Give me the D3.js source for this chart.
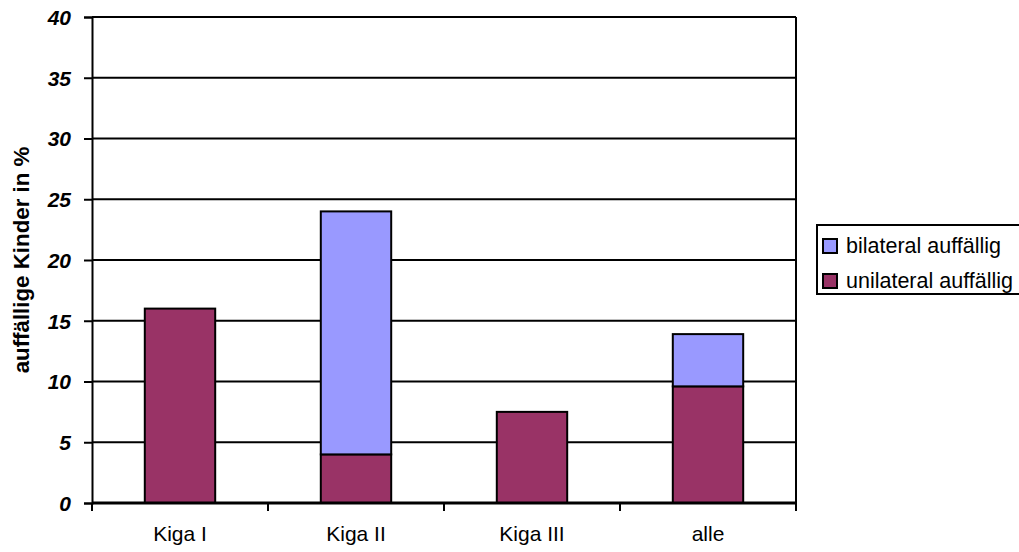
<!DOCTYPE html>
<html>
<meta charset="utf-8">
<style>
    body { margin: 0; background: #fff; }
    svg text { font-family: Arial, "Liberation Sans", sans-serif; }
</style>
<body>
<script src="https://d3js.org/d3.v7.min.js"></script>
<div id="chart"></div>
<script>
// Chart data
var categories = ["Kiga I", "Kiga II", "Kiga III", "alle"];
var unilateral = [16, 4, 7.5, 9.6];
var bilateral = [0, 20, 0, 4.3];
var yTicks = [0, 5, 10, 15, 20, 25, 30, 35, 40];
var seriesNames = ["bilateral auffällig", "unilateral auffällig"];
var seriesColors = ["#9999ff", "#993366"];

var width = 1019, height = 552;
var margin = {left: 92, right: 223, top: 17, bottom: 49};

var svg = d3.select("#chart").append("svg")
    .attr("width", width)
    .attr("height", height);

var x = d3.scaleBand()
    .domain(categories)
    .range([margin.left, width - margin.right]);

var y = d3.scaleLinear()
    .domain([0, 40])
    .range([height - margin.bottom, margin.top]);

// gridlines
svg.append("g")
    .selectAll("line")
    .data(yTicks)
    .enter()
    .append("line")
    .attr("x1", margin.left)
    .attr("x2", width - margin.right)
    .attr("y1", function(d) { return y(d); })
    .attr("y2", function(d) { return y(d); })
    .attr("stroke", "#000")
    .attr("stroke-width", 2);

// right border
svg.append("line")
    .attr("x1", width - margin.right).attr("x2", width - margin.right)
    .attr("y1", margin.top).attr("y2", height - margin.bottom)
    .attr("stroke", "#000").attr("stroke-width", 2);

// bars
var barW = x.bandwidth() * 0.4;
var rows = categories.map(function(c, i) {
    return {cat: c, uni: unilateral[i], bi: bilateral[i]};
});

svg.append("g").selectAll("rect")
    .data(rows)
    .enter()
    .append("rect")
    .attr("x", function(d) { return x(d.cat) + (x.bandwidth() - barW) / 2; })
    .attr("width", barW)
    .attr("y", function(d) { return y(d.uni); })
    .attr("height", function(d) { return y(0) - y(d.uni); })
    .attr("fill", seriesColors[1])
    .attr("stroke", "#000")
    .attr("stroke-width", 2);

svg.append("g").selectAll("rect")
    .data(rows.filter(function(d) { return d.bi > 0; }))
    .enter()
    .append("rect")
    .attr("x", function(d) { return x(d.cat) + (x.bandwidth() - barW) / 2; })
    .attr("width", barW)
    .attr("y", function(d) { return y(d.uni + d.bi); })
    .attr("height", function(d) { return y(d.uni) - y(d.uni + d.bi); })
    .attr("fill", seriesColors[0])
    .attr("stroke", "#000")
    .attr("stroke-width", 2);

// y axis
var yAxis = svg.append("g")
    .attr("transform", "translate(" + margin.left + ",0)")
    .call(d3.axisLeft(y).tickValues(yTicks).tickSize(8).tickPadding(13));
yAxis.select(".domain").attr("stroke-width", 2);
yAxis.selectAll(".tick line").attr("stroke-width", 2);
yAxis.selectAll("text")
    .style("font-size", "21px")
    .style("font-weight", "bold")
    .style("font-style", "italic")
    .attr("dy", "0.35em")
    .attr("fill", "#000");

// x axis
var xAxis = svg.append("g")
    .attr("transform", "translate(0," + y(0) + ")")
    .call(d3.axisBottom(x).tickSize(0).tickPadding(23));
xAxis.select(".domain").remove();
xAxis.selectAll("text").style("font-size", "21px").attr("fill", "#000");

svg.append("line")
    .attr("x1", margin.left).attr("x2", width - margin.right)
    .attr("y1", y(0)).attr("y2", y(0))
    .attr("stroke", "#000").attr("stroke-width", 3);

var bounds = categories.map(function(c) { return x(c); }).concat([width - margin.right]);
svg.append("g").selectAll("line")
    .data(bounds)
    .enter()
    .append("line")
    .attr("x1", function(d) { return d; })
    .attr("x2", function(d) { return d; })
    .attr("y1", y(0))
    .attr("y2", y(0) + 8)
    .attr("stroke", "#000")
    .attr("stroke-width", 2);

// y title
svg.append("text")
    .attr("transform", "translate(29," + ((margin.top + height - margin.bottom) / 2) + ") rotate(-90)")
    .attr("text-anchor", "middle")
    .attr("font-size", 22.3)
    .attr("font-weight", "bold")
    .text("auffällige Kinder in %");

// legend
var legend = svg.append("g").attr("transform", "translate(817,225)");
legend.append("rect")
    .attr("width", 210).attr("height", 69)
    .attr("fill", "#fff").attr("stroke", "#000").attr("stroke-width", 2);
seriesNames.forEach(function(name, i) {
    var row = legend.append("g").attr("transform", "translate(6," + (28 + i * 35) + ")");
    row.append("rect")
        .attr("x", 0).attr("y", -14)
        .attr("width", 14).attr("height", 14)
        .attr("fill", seriesColors[i])
        .attr("stroke", "#000").attr("stroke-width", 2);
    row.append("text")
        .attr("x", 23).attr("y", 0)
        .attr("font-size", 21.5)
        .text(name);
});
</script>
</body>
</html>
